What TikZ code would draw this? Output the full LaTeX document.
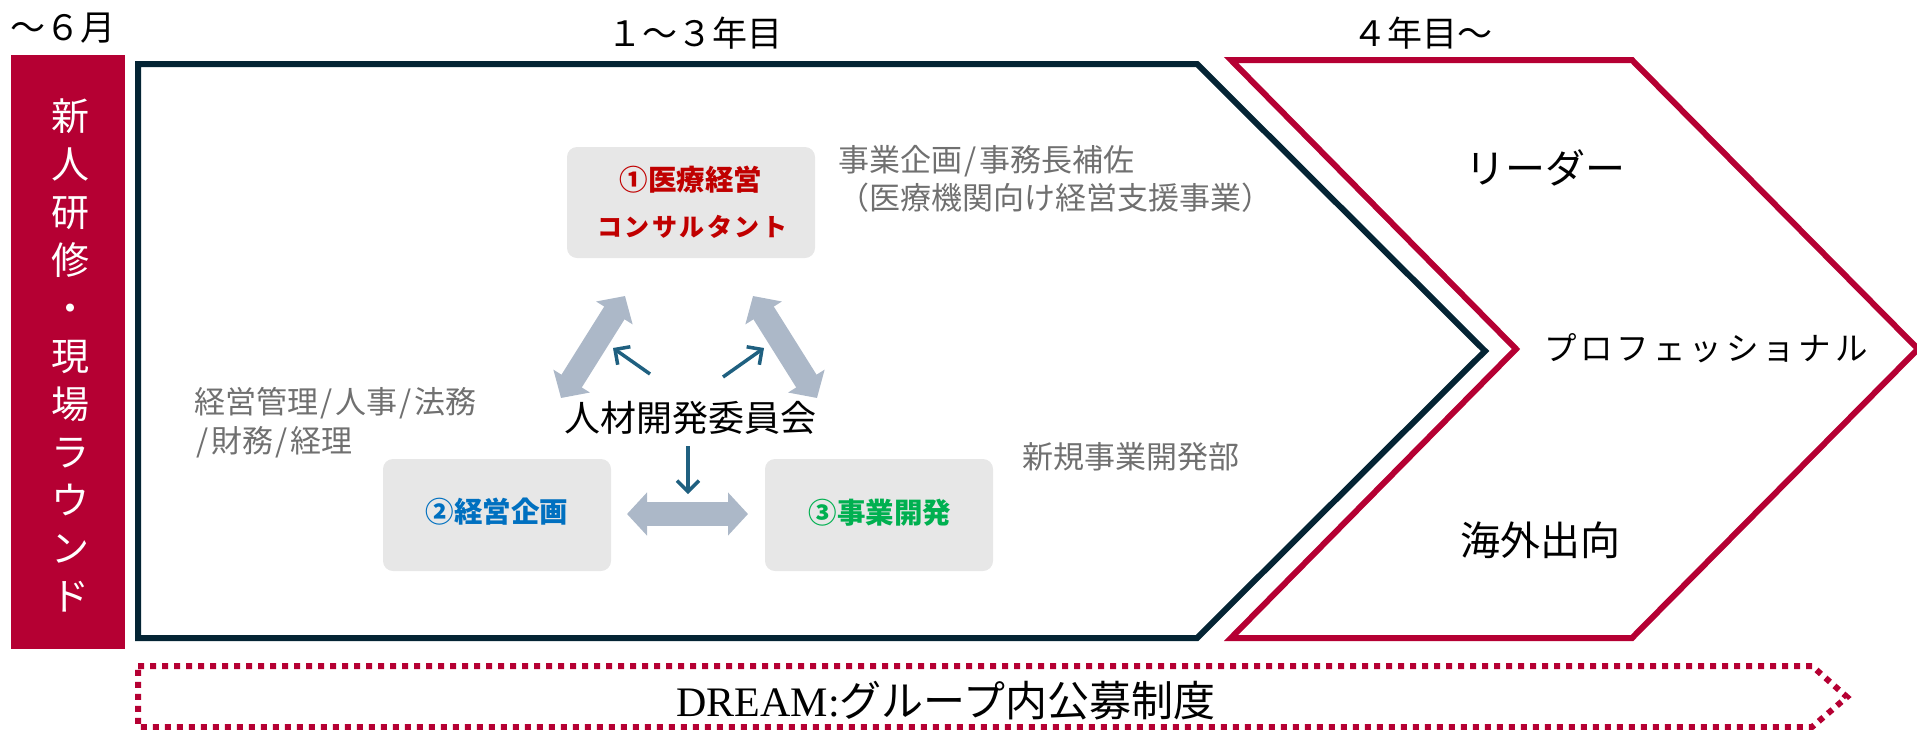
\documentclass[tikz,border=0pt]{standalone}
\usepackage{fontspec}
\setmainfont{Noto Sans CJK JP}
\newfontfamily\latinserif{Liberation Serif}
\usetikzlibrary{arrows.meta}
\definecolor{navy}{RGB}{4,36,52}
\definecolor{crimson}{RGB}{181,0,51}
\definecolor{boxgray}{RGB}{231,231,231}
\definecolor{arrowgray}{RGB}{172,184,200}
\definecolor{arrowblue}{RGB}{31,96,128}
\definecolor{txtgray}{RGB}{112,112,112}
\definecolor{redtxt}{RGB}{192,0,0}
\definecolor{bluetxt}{RGB}{0,112,192}
\definecolor{greentxt}{RGB}{0,176,80}
\newcommand\jsl{\kern2.5pt/\kern2.5pt}
\tikzset{
  plain/.style={inner sep=0pt, outer sep=0pt},
  toplabel/.style={plain, text=black, font=\fontsize{35}{40}\selectfont},
  graytxt/.style={plain, text=txtgray, align=left, font=\fontsize{31}{38.5}\selectfont},
  unitbox/.style={plain, fill=boxgray, rounded corners=10pt},
  unitlabel/.style={plain, font=\fontsize{28.5}{34}\selectfont\bfseries},
  goal/.style={plain, text=black, font=\fontsize{40}{46}\selectfont},
  bigarrow/.style={draw=arrowgray, line width=24pt,
    {Triangle[length=20pt,width=42pt]}-{Triangle[length=20pt,width=42pt]}},
  smallarrow/.style={draw=arrowblue, line width=3.5pt,
    -{Straight Barb[length=11pt,width=22pt]}},
  chevron/.style={line width=6pt, line join=miter}
}
\begin{document}
\begin{tikzpicture}[x=1pt,y=-1pt]
\useasboundingbox (0,0) rectangle (1917,729);

% period labels
\node[toplabel] (p1) at (63,28) {～６月};
\node[toplabel] (p2) at (695,33) {１～３年目};
\node[toplabel] (p3) at (1422,33) {４年目～};

% intro red box
\node[plain, fill=crimson, minimum width=114pt, minimum height=594pt] (intro) at (68,352) {};
\node[plain, text=white, align=center, font=\fontsize{38}{48}\selectfont] (introtxt) at (70,355)
  {新\\人\\研\\修\\・\\現\\場\\ラ\\ウ\\ン\\ド};

% chevrons
\draw[chevron, navy] (138,64) -- (1197,64) -- (1485,351) -- (1197,638) -- (138,638) -- cycle;
\draw[chevron, crimson] (1231,60) -- (1632,60) -- (1918,349) -- (1632,638) -- (1231,638) -- (1516,349) -- cycle;

% units
\node[unitbox, minimum width=248pt, minimum height=111pt] (u1) at (691,202.5) {};
\node[unitlabel, text=redtxt] (u1a) at (691,180) {①医療経営};
\node[plain, text=redtxt, font=\fontsize{25}{30}\selectfont\bfseries\addfontfeatures{LetterSpace=10}] (u1b) at (692,227) {コンサルタント};
\node[unitbox, minimum width=228pt, minimum height=112pt] (u2) at (497,515) {};
\node[unitlabel, text=bluetxt] (u2a) at (497,512) {②経営企画};
\node[unitbox, minimum width=228pt, minimum height=112pt] (u3) at (879,515) {};
\node[unitlabel, text=greentxt] (u3a) at (880,513) {③事業開発};

% committee
\node[plain, text=black, font=\fontsize{36}{42}\selectfont] (comm) at (690,418) {人材開発委員会};

% gray descriptions
\node[graytxt, anchor=west] (d1) at (838,179) {事業企画\jsl 事務長補佐\\（医療機関向け経営支援事業）};
\node[graytxt, anchor=west] (d2) at (194,422.5) {経営管理\jsl 人事\jsl 法務\\\jsl 財務\jsl 経理};
\node[graytxt, anchor=west] (d3) at (1022,457) {新規事業開発部};

% big gray arrows
\coordinate (L1) at (561,398); \coordinate (L2) at (625,296);
\coordinate (R1) at (753,296); \coordinate (R2) at (817,398);
\coordinate (H1) at (627,514); \coordinate (H2) at (748,514);
\draw[bigarrow] (L1) -- (L2);
\draw[bigarrow] (R1) -- (R2);
\draw[bigarrow] (H1) -- (H2);

% small blue arrows
\coordinate (s1a) at (650,374); \coordinate (s1b) at (613,348);
\coordinate (s2a) at (723,377); \coordinate (s2b) at (764,348);
\coordinate (s3a) at (688,446); \coordinate (s3b) at (688,494);
\draw[smallarrow] (s1a) -- (s1b);
\draw[smallarrow] (s2a) -- (s2b);
\draw[smallarrow] (s3a) -- (s3b);

% goals
\node[goal] (g1) at (1545,168) {リーダー};
\node[plain, text=black, font=\fontsize{32.5}{38}\selectfont\addfontfeatures{LetterSpace=12}] (g2) at (1706,348) {プロフェッショナル};
\node[goal] (g3) at (1540,540) {海外出向};

% DREAM banner
\draw[crimson, line width=6pt, dash pattern=on 6pt off 6pt] (138,666) -- (1812,666) -- (1847,697) -- (1812,727) -- (138,727) -- cycle;
\node[plain, text=black, font=\fontsize{42}{48}\selectfont] (dream) at (946,701) {{\latinserif DREAM:}グループ内公募制度};
\end{tikzpicture}
\end{document}
